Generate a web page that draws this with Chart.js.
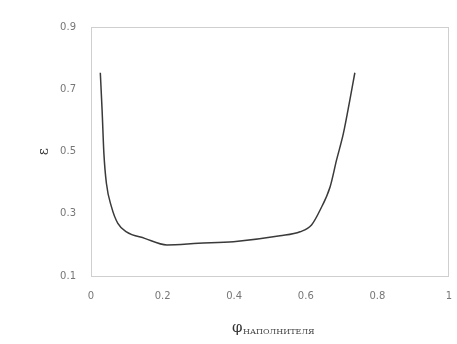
<!DOCTYPE html>
<html>
<head>
<meta charset="utf-8">
<script src="https://cdn.jsdelivr.net/npm/chart.js@4"></script>
<style>
	html, body { margin: 0; padding: 0; background: #fff; }
	#wrap { width: 457px; height: 344px; }
</style>
</head>
<body>
<div id="wrap"><canvas id="eps-chart"></canvas></div>
<script>
// curve
const phiValues = [0.026, 0.031, 0.036, 0.043, 0.057, 0.075, 0.099, 0.15, 0.212, 0.3, 0.398, 0.528, 0.584, 0.616, 0.64, 0.668, 0.686, 0.705, 0.723, 0.737];
const epsValues = [0.753, 0.633, 0.494, 0.398, 0.323, 0.269, 0.242, 0.221, 0.2, 0.205, 0.21, 0.229, 0.242, 0.264, 0.312, 0.387, 0.473, 0.558, 0.665, 0.753];

const xTicks = [0, 0.2, 0.4, 0.6, 0.8, 1];
const yTicks = [0.1, 0.3, 0.5, 0.7, 0.9];

const xTitleMain = "φ";
const xTitleSub = "НАПОЛНИТЕЛЯ";
const yTitle = "ε";

const points = phiValues.map((x, i) => ({ x: x, y: epsValues[i] }));

// box around the plot + the x title with its subscript
const framePlugin = {
	id: "frame",
	afterDraw(chart) {
		const ctx = chart.ctx;
		const a = chart.chartArea;
		ctx.save();
		ctx.strokeStyle = "#cfcfcf";
		ctx.lineWidth = 1;
		ctx.strokeRect(a.left + 0.5, a.top + 0.5, a.right - a.left - 1, a.bottom - a.top);

		ctx.fillStyle = "#333";
		ctx.textBaseline = "alphabetic";
		ctx.font = "15px 'DejaVu Serif'";
		ctx.fillText(xTitleMain, 232, 332);
		ctx.font = "8px 'DejaVu Serif'";
		ctx.fillStyle = "#444";
		ctx.fillText(xTitleSub, 243, 334);
		ctx.restore();
	},
};

const epsChart = new Chart(document.getElementById("eps-chart"), {
	type: "scatter",
	data: {
		datasets: [
			{
				data: points,
				showLine: true,
				borderColor: "#3a3a3a",
				borderWidth: 1.5,
				pointRadius: 0,
				cubicInterpolationMode: "monotone",
			},
		],
	},
	options: {
		responsive: true,
		maintainAspectRatio: false,
		animation: false,
		layout: { autoPadding: false, padding: { top: 27, right: 8, left: 36, bottom: 0 } },
		plugins: {
			legend: { display: false },
			tooltip: { enabled: false },
		},
		scales: {
			x: {
				type: "linear",
				min: 0,
				max: 1,
				afterBuildTicks: (s) => { s.ticks = xTicks.map((v) => ({ value: v })); },
				ticks: {
					color: "#777",
					font: { size: 10, family: "DejaVu Sans" },
					padding: 14,
					maxRotation: 0,
					callback: (v) => String(v),
				},
				grid: { display: false, drawTicks: false },
				border: { display: false },
				afterFit: (s) => {
					s.height = 68;
					s.paddingLeft = 0;
					s.paddingRight = 0;
				},
			},
			y: {
				type: "linear",
				min: 0.1,
				max: 0.9,
				afterBuildTicks: (s) => { s.ticks = yTicks.map((v) => ({ value: v })); },
				ticks: {
					color: "#777",
					font: { size: 10, family: "DejaVu Sans" },
					padding: 15,
					callback: (v) => String(v),
				},
				grid: { display: false, drawTicks: false },
				border: { display: false },
				title: {
					display: true,
					text: yTitle,
					color: "#333",
					font: { size: 14, family: "DejaVu Serif" },
					padding: { top: 0, bottom: 0 },
				},
				afterFit: (s) => {
					s.width = 55;
					s.paddingTop = 0;
					s.paddingBottom = 0;
				},
			},
		},
	},
	plugins: [framePlugin],
});
</script>
</body>
</html>
